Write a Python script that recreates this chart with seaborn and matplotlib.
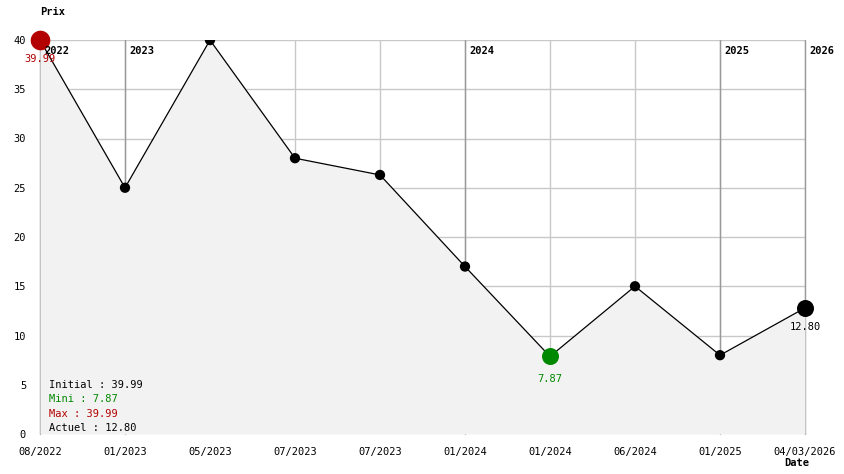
import numpy as np
import pandas as pd
import matplotlib
matplotlib.use("Agg")
import matplotlib.pyplot as plt
import seaborn as sns

# price history
dates = ["08/2022", "01/2023", "05/2023", "07/2023", "07/2023", "01/2024",
         "01/2024", "06/2024", "01/2025", "04/03/2026"]
prices = [39.99, 25.0, 39.99, 28.0, 26.3, 17.0, 7.87, 15.0, 8.0, 12.80]

years = ["2022", "2023", "2024", "2025", "2026"]
year_pos = [0, 1, 5, 8, 9]

sns.set_style("white")
plt.rcParams["font.family"] = ["DejaVu Sans Mono"]
plt.rcParams["text.color"] = "black"
plt.rcParams["xtick.color"] = "black"
plt.rcParams["ytick.color"] = "black"

df = pd.DataFrame({"idx": np.arange(len(prices)), "prix": prices})

fig = plt.figure(figsize=(8.44, 4.74), dpi=100)
W, H = 844, 474
ax = fig.add_axes([40 / W, 1 - 434 / H, 765 / W, 394 / H])

ax.set_xlim(0, len(prices) - 1)
ax.set_ylim(0, 40)

# grid
for y in range(5, 45, 5):
    ax.axhline(y, color="#c8c8c8", lw=1, zorder=1)
for i in range(len(prices)):
    ax.axvline(i, color="#c8c8c8", lw=1, zorder=1)
for p, yr in zip(year_pos, years):
    ax.axvline(p, color="#999999", lw=1, zorder=1.5, clip_on=False)
    ax.text(p + 0.05, 38.9, yr, fontsize=7.5, fontweight="bold", va="center",
            ha="left", zorder=6, color="black")

ax.fill_between(df["idx"], df["prix"], 0, color="#f2f2f2", zorder=2, lw=0)
sns.lineplot(data=df, x="idx", y="prix", color="black", lw=0.9, ax=ax, zorder=3)
sns.scatterplot(data=df.iloc[1:-1], x="idx", y="prix", color="black", s=55,
                edgecolor="none", ax=ax, zorder=4)

i_max = 0
i_min = int(np.argmin(prices))
i_last = len(prices) - 1
ax.scatter([i_max], [prices[i_max]], s=200, color="#b30000", zorder=5, clip_on=False, lw=0)
ax.scatter([i_min], [prices[i_min]], s=150, color="#008800", zorder=5, clip_on=False, lw=0)
ax.scatter([i_last], [prices[i_last]], s=150, color="black", zorder=5, clip_on=False, lw=0)

ax.text(i_max, prices[i_max] - 1.9, f"{prices[i_max]:.2f}", color="#b30000",
        fontsize=7.5, ha="center", va="center", zorder=6)
ax.text(i_min, prices[i_min] - 2.3, f"{prices[i_min]:.2f}", color="#008800",
        fontsize=7.5, ha="center", va="center", zorder=6)
ax.text(i_last, prices[i_last] - 1.9, f"{prices[i_last]:.2f}", color="black",
        fontsize=7.5, ha="center", va="center", zorder=6)

# summary
info = [(f"Initial : {prices[0]:.2f}", "black"),
        (f"Mini : {min(prices):.2f}", "#008800"),
        (f"Max : {max(prices):.2f}", "#b30000"),
        (f"Actuel : {prices[-1]:.2f}", "black")]
for k, (t, c) in enumerate(info):
    fig.text(49 / W, 1 - (385 + k * 14.3) / H, t, color=c, fontsize=7.5,
             va="center", ha="left")

ax.set_xticks(df["idx"])
ax.set_xticklabels(dates)
ax.set_yticks(range(0, 45, 5))
ax.tick_params(axis="both", length=0, labelsize=7.5, pad=9, colors="black")
ax.tick_params(axis="y", pad=10)
ax.set_xlabel("")
ax.set_ylabel("")
for s in ax.spines.values():
    s.set_visible(False)

fig.text(40 / W, 1 - 12 / H, "Prix", fontsize=7.5, fontweight="bold", va="center")
fig.text(797 / W, 1 - 463 / H, "Date", fontsize=7.5, fontweight="bold",
         va="center", ha="center")

fig.savefig("out.png", dpi=100)
